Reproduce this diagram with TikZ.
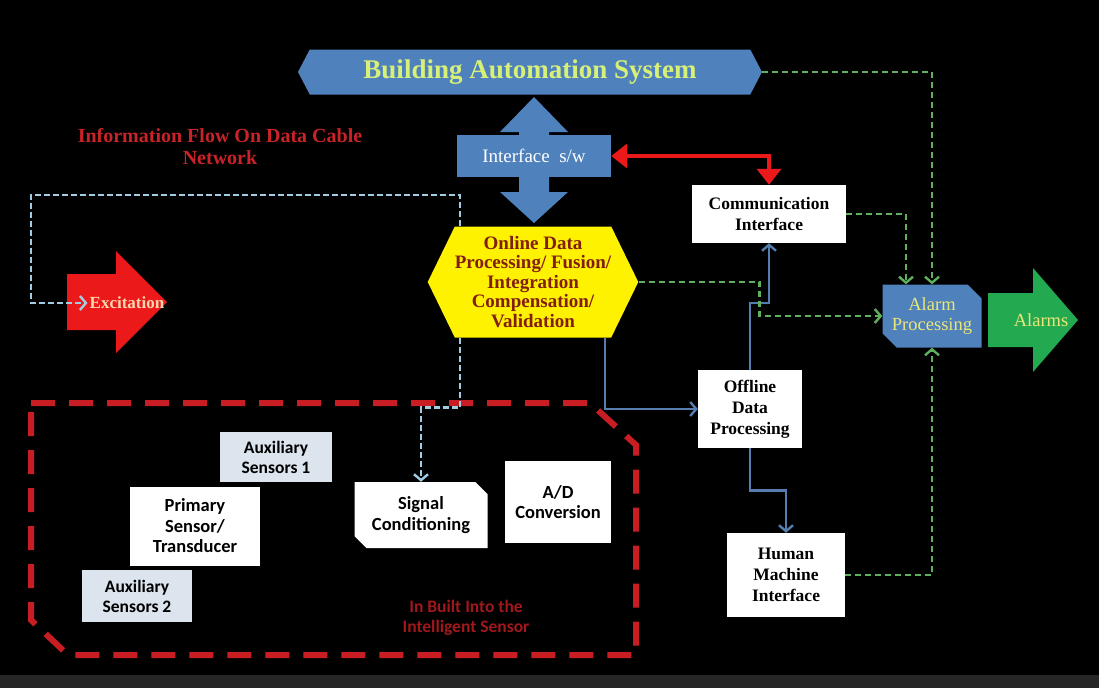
\documentclass[tikz,border=0pt]{standalone}
\usepackage{fontspec}
\setmainfont{Liberation Serif}
\setsansfont{Carlito}
\usepackage{tikz}
\usetikzlibrary{shapes}
\usetikzlibrary{arrows.meta}
\usepackage{xcolor}

\definecolor{basblue}{RGB}{79,129,189}
\definecolor{bastext}{RGB}{215,240,120}
\definecolor{hexyellow}{RGB}{255,242,0}
\definecolor{hextext}{RGB}{130,30,15}
\definecolor{redarrow}{RGB}{235,25,25}
\definecolor{infored}{RGB}{200,35,40}
\definecolor{excitetext}{RGB}{255,215,175}
\definecolor{greenarrow}{RGB}{35,170,80}
\definecolor{greenline}{RGB}{95,175,95}
\definecolor{cyanline}{RGB}{160,205,225}
\definecolor{wireblue}{RGB}{85,125,175}
\definecolor{alarmtext}{RGB}{235,230,120}
\definecolor{sensorgrey}{RGB}{220,228,238}
\definecolor{borderred}{RGB}{200,30,35}

\begin{document}
\begin{tikzpicture}[x=1pt,y=1pt,yscale=-1,xscale=1,
  whitebox/.style={fill=white,text=black,align=center,inner sep=0pt,font=\bfseries\fontsize{17.5}{21}\selectfont},
  sensorbox/.style={fill=white,text=black,align=center,inner sep=0pt,font=\sffamily\bfseries\fontsize{18.5}{20.5}\selectfont},
  chevron/.style={-{Straight Barb[length=6pt,width=14pt,line width=2.4pt]}},
  bluewire/.style={draw=wireblue,line width=2.6pt,chevron},
  greendash/.style={draw=greenline,line width=2.6pt,dash pattern=on 6pt off 4pt,chevron},
  cyandash/.style={draw=cyanline,line width=2.6pt,dash pattern=on 6pt off 3pt,chevron}]
%uncomment if require: \path (0,688); %set diagram left start at 0, and has height of 688
\useasboundingbox (0,0) rectangle (1099,688);
\fill [black] (0,0) rectangle (1099,688);
\fill [black!85!white] (0,675) rectangle (1099,688);

%Shape: Intelligent Sensor Border
\draw [borderred,line width=6pt,dash pattern=on 24pt off 14pt] (31,403) -- (590,403) -- (636,445) -- (636,655) -- (68,655) -- (31,620) -- cycle ;

%Shape: Double Arrow
\fill [basblue] (534,97) -- (568,132) -- (549,132) -- (549,192) -- (568,192) -- (534,223) -- (500,192) -- (519,192) -- (519,132) -- (500,132) -- cycle ;
%Shape: Excitation Arrow
\fill [redarrow] (67,274) -- (116,274) -- (116,251) -- (167,302) -- (116,353) -- (116,330) -- (67,330) -- cycle ;
%Shape: Alarms Arrow
\fill [greenarrow] (988,293) -- (1033,293) -- (1033,268) -- (1078,320) -- (1033,372) -- (1033,347) -- (988,347) -- cycle ;

% Text Node
\node (bas) at (530,72) [shape=signal,signal to=west and east,signal pointer angle=125,fill=basblue,inner sep=0pt,minimum width=464,minimum height=45,text=bastext,font=\bfseries\fontsize{27}{28}\selectfont] {Building Automation System};
% Text Node
\node (iface) at (534,156) [fill=basblue,inner sep=0pt,minimum width=154,minimum height=42,text=white,font=\fontsize{19}{21}\selectfont] {Interface\enspace s/w};
% Text Node
\node (online) at (533,282) [shape=signal,signal to=west and east,signal pointer angle=128,fill=hexyellow,inner sep=0pt,minimum width=200,minimum height=111,align=center,text=hextext,font=\bfseries\fontsize{19}{19.5}\selectfont] {Online Data\\Processing/ Fusion/\\Integration\\Compensation/\\Validation};
% Text Node
\node (commif) at (769,214) [whitebox,minimum width=154,minimum height=58] {Communication\\Interface};
% Text Node
\node (offline) at (750,409) [whitebox,minimum width=104,minimum height=78] {Offline\\Data\\Processing};
% Text Node
\node (hmi) at (786,575) [whitebox,minimum width=118,minimum height=84] {Human\\Machine\\Interface};
% Text Node
\node (alarm) at (932,316) [shape=chamfered rectangle,chamfered rectangle corners={north east,south west},chamfered rectangle xsep=7pt,chamfered rectangle ysep=7pt,fill=basblue,inner sep=0pt,minimum width=99,minimum height=63,align=center,text=alarmtext,font=\fontsize{18.5}{20}\selectfont] {Alarm\\Processing};
% Text Node
\node (alarms) at (1041,320) [text=alarmtext,font=\fontsize{18.5}{20}\selectfont] {Alarms};
% Text Node
\node (excite) at (127,303) [inner sep=2pt,text=excitetext,font=\bfseries\fontsize{17}{20}\selectfont] {Excitation};
% Text Node
\node (info) at (220,147) [align=center,text=infored,font=\bfseries\fontsize{20}{22}\selectfont] {Information Flow On Data Cable\\Network};

% Text Node
\node (aux1) at (276,457) [sensorbox,fill=sensorgrey,minimum width=112,minimum height=50,font=\sffamily\bfseries\fontsize{17.5}{20}\selectfont] {Auxiliary\\Sensors 1};
% Text Node
\node (primary) at (195,526) [sensorbox,minimum width=130,minimum height=79] {Primary\\Sensor/\\Transducer};
% Text Node
\node (aux2) at (137,596) [sensorbox,fill=sensorgrey,minimum width=110,minimum height=52,font=\sffamily\bfseries\fontsize{17.5}{20}\selectfont] {Auxiliary\\Sensors 2};
% Text Node
\node (sigcond) at (421,515) [sensorbox,shape=chamfered rectangle,chamfered rectangle corners={north east,south west},chamfered rectangle xsep=6pt,chamfered rectangle ysep=6pt,minimum width=133,minimum height=66] {Signal\\Conditioning};
% Text Node
\node (adconv) at (558,502) [sensorbox,minimum width=106,minimum height=82] {A/D\\Conversion};
% Text Node
\node (inbuilt) at (466,618) [align=center,text=borderred!80!black,font=\sffamily\bfseries\fontsize{17.5}{20}\selectfont] {In Built Into the\\Intelligent Sensor};

%Straight Lines
\draw [redarrow,line width=4pt,{Triangle[width=24pt,length=16pt]}-{Triangle[width=24pt,length=16pt]}] (iface.east) -| (commif.north) ;
%Straight Lines
\coordinate (cable) at (31,195);
\draw [cyandash] ([xshift=-73pt]online.north) |- (cable) |- (excite.west) ;
%Straight Lines
\draw [cyandash] ([xshift=-73pt]online.south) -- ++(0,70) -| (sigcond.north) ;
%Straight Lines
\draw [bluewire] ([xshift=72pt]online.south) |- (offline.west) ;
%Straight Lines
\draw [bluewire] (offline.north) -- ++(0,-67) -| (commif.south) ;
%Straight Lines
\draw [bluewire] (offline.south) -- ++(0,42) -| (hmi.north) ;
%Straight Lines
\draw [greendash] (bas.east) -| (alarm.north) ;
%Straight Lines
\draw [greendash] (commif.east) -| ([xshift=-26pt]alarm.north) ;
%Straight Lines
\draw [greendash] (online.east) -| ([xshift=-123pt]alarm.west) -- (alarm.west) ;
%Straight Lines
\draw [greendash] (hmi.east) -| (alarm.south) ;

\end{tikzpicture}
\end{document}
